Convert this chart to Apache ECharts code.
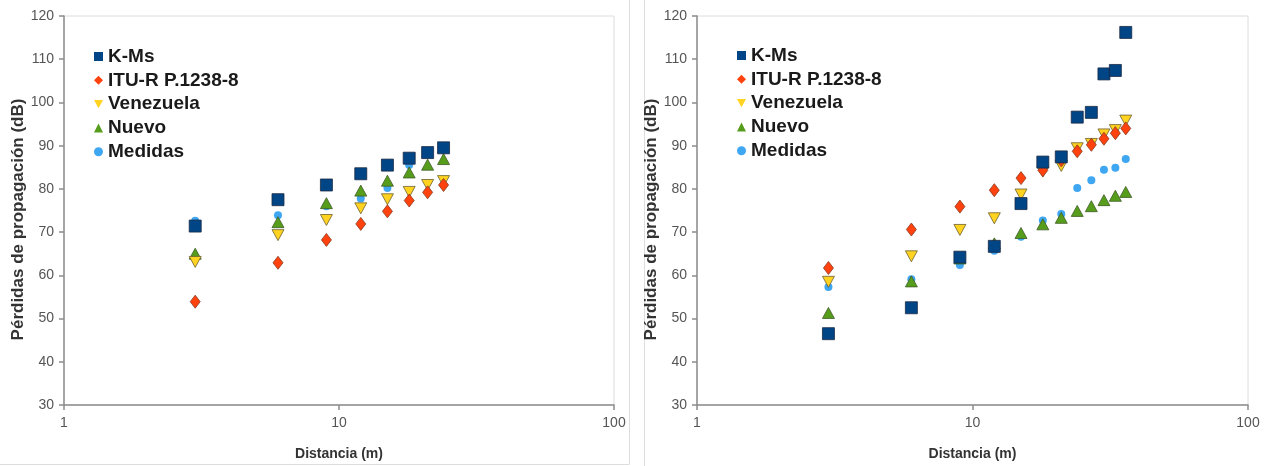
<!DOCTYPE html>
<html>
<head>
<meta charset="utf-8">
<script src="https://cdn.jsdelivr.net/npm/echarts@6/dist/echarts.min.js"></script>
<style>
html,body{margin:0;padding:0;background:#fff;}
#chart{width:1266px;height:466px;}
</style>
</head>
<body>
<div id="chart"></div>
<script>
// ---- Data ----
const seriesNames = ['K-Ms', 'ITU-R P.1238-8', 'Venezuela', 'Nuevo', 'Medidas'];
const xTickLabels = ['1', '10', '100'];

const leftDist = [3, 6, 9, 12, 15, 18, 21, 24];
const leftKMs = [71.4, 77.5, 80.9, 83.5, 85.5, 87.1, 88.4, 89.5];
const leftITU = [53.9, 62.9, 68.2, 71.9, 74.8, 77.3, 79.2, 80.9];
const leftVenezuela = [63.1, 69.3, 72.8, 75.5, 77.6, 79.3, 80.9, 81.8];
const leftNuevo = [65.0, 72.3, 76.7, 79.6, 81.9, 83.8, 85.6, 86.9];
const leftMedidas = [72.6, 73.9, 76.0, 77.8, 80.2, 85.5, 88.0, 89.2];

const rightDist = [3, 6, 9, 12, 15, 18, 21, 24, 27, 30, 33, 36];
const rightKMs = [46.5, 52.5, 64.2, 66.7, 76.6, 86.2, 87.4, 96.6, 97.7, 106.6, 107.4, 116.2];
const rightITU = [61.7, 70.6, 75.9, 79.7, 82.5, 84.3, 86.6, 88.7, 90.2, 91.6, 92.9, 94.0];
const rightVenezuela = [58.5, 64.4, 70.5, 73.2, 78.7, 84.0, 85.3, 89.4, 90.4, 92.6, 93.6, 95.8];
const rightNuevo = [51.3, 58.6, 63.9, 67.4, 69.8, 71.8, 73.3, 74.9, 76.0, 77.4, 78.4, 79.3];
const rightMedidas = [57.3, 59.1, 62.4, 65.7, 68.9, 72.7, 74.2, 80.2, 82.0, 84.4, 84.9, 86.9];

// ---- Styles ----
const FONT = 'Liberation Sans, Arial, sans-serif';
const styles = [
  { color: '#004586', symbol: 'rect', size: [12, 12], z: 6, border: '#1b2a44' },
  { color: '#ff420e', symbol: 'diamond', size: [10, 13], z: 5, border: '#8a3a20' },
  { color: '#ffd320', symbol: 'path://M0,0 L10,0 L5,9 Z', size: [12, 11], z: 4, border: '#6b6030' },
  { color: '#579d1c', symbol: 'triangle', size: [12, 11], z: 3, border: '#3d5a25' },
  { color: '#3fa6f2', symbol: 'circle', size: [8, 8], z: 2, border: null }
];

function pairs(xs, ys) { return xs.map((x, i) => [x, ys[i]]); }

function makeSeries(gridIdx, xs, sets) {
  return sets.map((ys, i) => {
    const s = styles[i];
    return {
      name: seriesNames[i],
      type: 'scatter',
      xAxisIndex: gridIdx,
      yAxisIndex: gridIdx,
      symbol: s.symbol,
      symbolSize: s.size,
      z: s.z,
      itemStyle: {
        color: s.color,
        borderColor: s.border || s.color,
        borderWidth: s.border ? 0.8 : 0,
        opacity: 1
      },
      emphasis: { disabled: true },
      data: pairs(xs, ys)
    };
  });
}

function xAxis(gridIdx) {
  return {
    type: 'log', logBase: 10, min: 1, max: 100, gridIndex: gridIdx,
    name: 'Distancia (m)', nameLocation: 'middle', nameGap: 42,
    nameTextStyle: { fontFamily: FONT, fontSize: 14, fontWeight: 'bold', color: '#333' },
    axisLine: { show: true, onZero: false, lineStyle: { color: '#8c8c8c', width: 1.5 } },
    axisTick: { show: true, length: 5, inside: false, lineStyle: { color: '#8c8c8c', width: 1.5 } },
    minorTick: { show: false },
    splitLine: { show: false },
    axisLabel: {
      fontFamily: FONT, fontSize: 14, color: '#555', margin: 11,
      showMinLabel: true, showMaxLabel: true,
      formatter: function (v) {
        const idx = Math.round(Math.log10(v));
        return xTickLabels[idx] !== undefined ? xTickLabels[idx] : '';
      }
    }
  };
}

function yAxis(gridIdx) {
  return {
    type: 'value', min: 30, max: 120, interval: 10, gridIndex: gridIdx,
    name: 'Pérdidas de propagación (dB)', nameLocation: 'middle', nameGap: 35, nameRotate: 90,
    nameTextStyle: { fontFamily: FONT, fontSize: 17, fontWeight: 'bold', color: '#333', padding: [0, 18, 0, 0] },
    axisLine: { show: true, lineStyle: { color: '#8c8c8c', width: 1.5 } },
    axisTick: { show: true, length: 5, inside: false, lineStyle: { color: '#8c8c8c', width: 1.5 } },
    splitLine: { show: false },
    axisLabel: { fontFamily: FONT, fontSize: 14, color: '#555', margin: 10 }
  };
}

function legend(left, top) {
  return {
    orient: 'vertical', left: left, top: top, padding: 0,
    itemWidth: 9, itemHeight: 9, itemGap: 4.8,
    selectedMode: false,
    textStyle: { fontFamily: FONT, fontSize: 19, fontWeight: 'bold', color: '#1a1a1a' },
    data: seriesNames.map((n, i) => ({ name: n, icon: styles[i].symbol, itemStyle: { borderWidth: 0 } }))
  };
}

const chart = echarts.init(document.getElementById('chart'), null, { renderer: 'canvas' });

const leftSeries = makeSeries(0, leftDist, [leftKMs, leftITU, leftVenezuela, leftNuevo, leftMedidas]);
const rightSeries = makeSeries(1, rightDist, [rightKMs, rightITU, rightVenezuela, rightNuevo, rightMedidas]);

chart.setOption({
  animation: false,
  backgroundColor: '#ffffff',
  grid: [
    { left: 64, right: 652, top: 16, bottom: 61, show: true, borderColor: '#dcdcdc', borderWidth: 1, backgroundColor: 'transparent' },
    { left: 697, right: 18, top: 16, bottom: 61, show: true, borderColor: '#dcdcdc', borderWidth: 1, backgroundColor: 'transparent' }
  ],
  legend: [legend(94, 47), legend(737, 46)],
  xAxis: [xAxis(0), xAxis(1)],
  yAxis: [yAxis(0), yAxis(1)],
  graphic: [
    { type: 'line', shape: { x1: 629.5, y1: 0, x2: 629.5, y2: 464 }, style: { stroke: '#dddddd', lineWidth: 1 }, silent: true },
    { type: 'line', shape: { x1: 0, y1: 464.5, x2: 629.5, y2: 464.5 }, style: { stroke: '#dddddd', lineWidth: 1 }, silent: true },
    { type: 'line', shape: { x1: 644.5, y1: 0, x2: 644.5, y2: 466 }, style: { stroke: '#dddddd', lineWidth: 1 }, silent: true }
  ],
  series: leftSeries.concat(rightSeries)
});
</script>
</body>
</html>
